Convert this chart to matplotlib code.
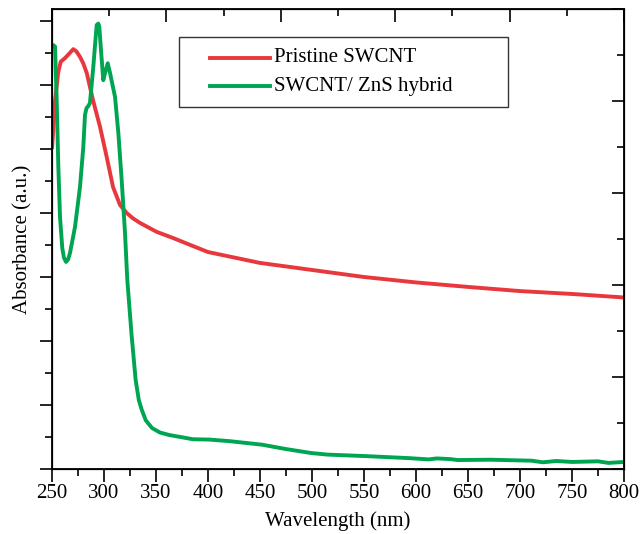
import matplotlib
matplotlib.use("Agg")
import matplotlib.pyplot as plt
from matplotlib.ticker import MultipleLocator, NullFormatter
from matplotlib.patches import Rectangle
from matplotlib.lines import Line2D

plt.rcParams['font.family'] = ['Liberation Serif', 'DejaVu Serif']

# Pristine SWCNT
red_wl = [250, 253, 256, 258.4, 262.5, 266.5, 270.5, 273.5, 276.9, 280, 283.4, 289.4, 296.2,
          302.6, 308.7, 315.4, 321.8, 328, 334.6, 350.7, 366.3, 380, 392.3, 400, 450, 500,
          550, 600, 650, 700, 750, 800]
red_abs = [1.000, 1.153, 1.240, 1.273, 1.284, 1.298, 1.312, 1.305, 1.288, 1.268, 1.2375,
           1.153, 1.069, 0.975, 0.881, 0.825, 0.800, 0.783, 0.769, 0.741, 0.722, 0.704,
           0.688, 0.678, 0.644, 0.622, 0.600, 0.583, 0.569, 0.556, 0.547, 0.536]

# SWCNT/ ZnS hybrid
grn_wl = [250.5, 252.9, 254.5, 256.1, 257.7, 259.9, 261.5, 263.5, 265.5, 267.3, 272.1,
          276.9, 280.1, 281.7, 283.2, 284.9, 286.5, 289.7, 291.5, 293.0, 294.5, 295.5,
          297.1, 299.3, 301.0, 303.6, 305.8, 310.6, 313.8, 317.0, 320.2, 322.4, 326.5,
          330.4, 333.5, 336.3, 340.2, 346.2, 353.8, 363, 373.6, 385.4, 401.0, 420.7,
          451.9, 475.6, 499.0, 514.8, 553.8, 593.3, 612, 620, 632.7, 640, 671.7, 711.0,
          722, 735, 750.0, 775, 785, 800]
grn_abs = [1.327, 1.320, 1.153, 0.944, 0.7875, 0.690, 0.660, 0.647, 0.655, 0.675, 0.756,
           0.881, 1.006, 1.106, 1.128, 1.134, 1.144, 1.256, 1.330, 1.3875, 1.392, 1.382,
           1.309, 1.215, 1.2375, 1.268, 1.2375, 1.163, 1.050, 0.903, 0.7375, 0.591, 0.420,
           0.279, 0.215, 0.185, 0.152, 0.128, 0.114, 0.106, 0.100, 0.093, 0.092, 0.087,
           0.076, 0.062, 0.050, 0.045, 0.040, 0.034, 0.030, 0.033, 0.031, 0.028, 0.029,
           0.026, 0.021, 0.025, 0.022, 0.024, 0.019, 0.022]

series_labels = ['Pristine SWCNT', 'SWCNT/ ZnS hybrid']
RED = '#e8383d'
GREEN = '#00a551'
LW = 2.8

fig = plt.figure(figsize=(6.42, 5.34), dpi=100)
ax = fig.add_axes([52/642, (534-469)/534, (624-52)/642, (469-9)/534])

ax.plot(red_wl, red_abs, color=RED, lw=LW, solid_joinstyle='round', solid_capstyle='butt')
ax.plot(grn_wl, grn_abs, color=GREEN, lw=LW, solid_joinstyle='round', solid_capstyle='butt')

ax.set_xlim(250, 800)
ax.set_ylim(0, 1.4375)
ax.xaxis.set_major_locator(MultipleLocator(50))
ax.xaxis.set_minor_locator(MultipleLocator(25))
ax.yaxis.set_major_locator(MultipleLocator(0.2))
ax.yaxis.set_minor_locator(MultipleLocator(0.1))
ax.yaxis.set_major_formatter(NullFormatter())
ax.tick_params(axis='both', which='major', direction='out', length=9, width=1.2,
               labelsize=15, pad=2, top=False, right=False)
ax.tick_params(axis='both', which='minor', direction='out', length=5, width=1.2,
               top=False, right=False)
for s in ax.spines.values():
    s.set_linewidth(1.3)

ax.set_xlabel('Wavelength (nm)', fontsize=15, labelpad=6)
ax.set_ylabel('Absorbance (a.u.)', fontsize=15, labelpad=3)

# right axis ticks
axr = ax.twinx()
axr.set_ylim(0, 1)
axr.yaxis.set_major_locator(MultipleLocator(0.2))
axr.yaxis.set_minor_locator(MultipleLocator(0.1))
axr.yaxis.set_major_formatter(NullFormatter())
axr.tick_params(axis='y', which='major', direction='in', length=9, width=1.2)
axr.tick_params(axis='y', which='minor', direction='in', length=5, width=1.2)

# top axis ticks
axt = ax.twiny()
axt.set_xlim(0, 10)
axt.xaxis.set_major_locator(MultipleLocator(2))
axt.xaxis.set_minor_locator(MultipleLocator(1))
axt.xaxis.set_major_formatter(NullFormatter())
axt.tick_params(axis='x', which='major', direction='in', length=9, width=1.2)
axt.tick_params(axis='x', which='minor', direction='in', length=5, width=1.2)

# legend box drawn in figure pixel space
def fx(px):
    return px / 642
def fy(py):
    return (534 - py) / 534

fig.patches.append(Rectangle((fx(179), fy(107)), fx(508) - fx(179), fy(37) - fy(107),
                             transform=fig.transFigure, fill=False, edgecolor='#333333',
                             linewidth=1.0, zorder=10))
for lab, col, py in zip(series_labels, [RED, GREEN], [58, 86]):
    fig.lines.append(Line2D([fx(210), fx(270)], [fy(py), fy(py)], color=col, lw=LW,
                            transform=fig.transFigure, zorder=11))
    fig.text(fx(274), fy(py), lab, fontsize=15, va='center', ha='left', zorder=11)

fig.savefig('out.png', dpi=100)
